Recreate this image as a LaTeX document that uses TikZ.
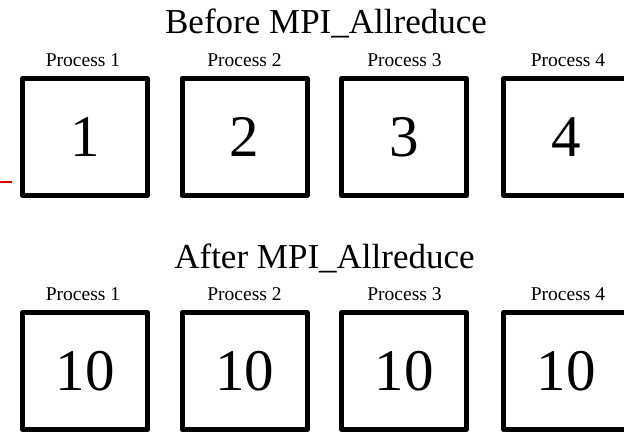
\documentclass[tikz,border=0pt]{standalone}
\usepackage{fontspec}
\setmainfont{Liberation Serif}
\begin{document}
\begin{tikzpicture}[x=1pt,y=1pt,
  procbox/.style={draw=black, line width=5pt, line join=round, fill=white,
    minimum width=125pt, minimum height=117pt, inner sep=0pt,
    font=\fontsize{59}{59}\selectfont},
  proclabel/.style={anchor=base, inner sep=0pt, font=\fontsize{19.5}{20}\selectfont},
  heading/.style={anchor=base, inner sep=0pt, font=\fontsize{35}{36}\selectfont}]
  \clip (0,0) rectangle (624,-432);
  \fill[white] (0,0) rectangle (624,-432);

  % before the reduction
  \node[heading] (titleA) at (326,-33) {Before MPI\_Allreduce};
  \foreach \i/\cx/\lx in {1/85/83, 2/244.5/244.5, 3/404/404.5, 4/566/568}{
    \node[proclabel] (labA\i) at (\lx,-66) {Process \i};
    \node[procbox] (boxA\i) at (\cx,-137) {\i};
  }

  % after the reduction
  \node[heading] (titleB) at (324.5,-268) {After MPI\_Allreduce};
  \foreach \i/\cx/\lx in {1/85/83, 2/244.5/244.5, 3/404/404.5, 4/566/568}{
    \node[proclabel] (labB\i) at (\lx,-300) {Process \i};
    \node[procbox] (boxB\i) at (\cx,-371) {10};
  }

  % short red mark at the left margin
  \coordinate (redL) at (0,-182);
  \coordinate (redR) at (12,-182);
  \draw[line width=2pt, red!85!black] (redL) -- (redR);
\end{tikzpicture}
\end{document}
